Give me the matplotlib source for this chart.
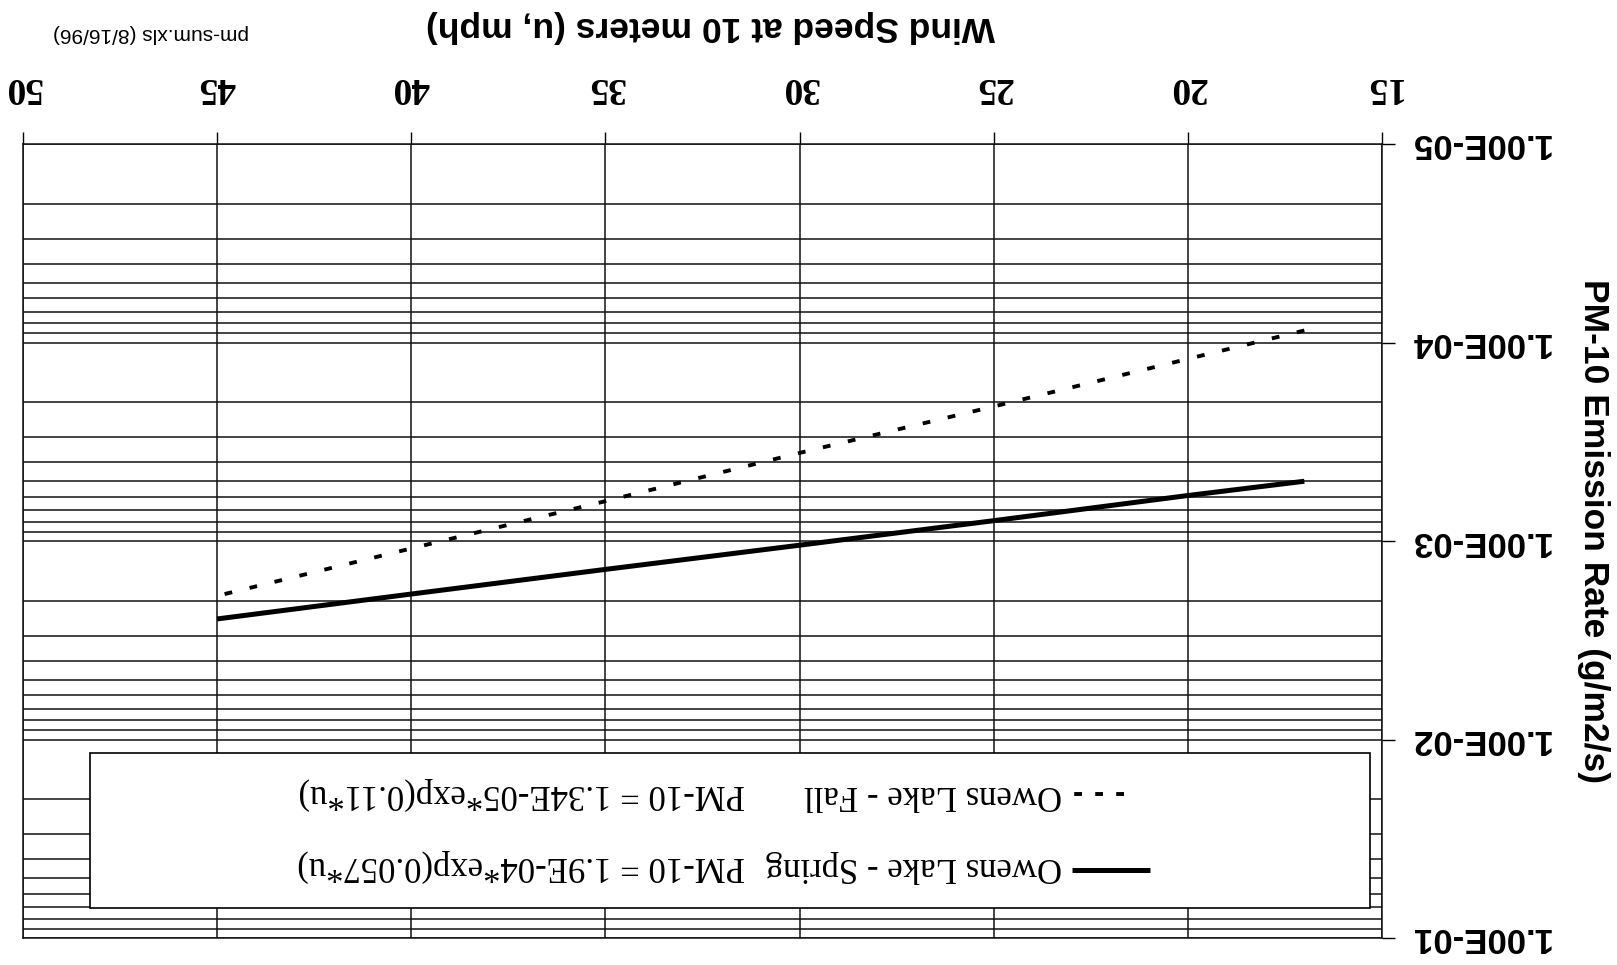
import matplotlib
matplotlib.use('Agg')
import matplotlib.pyplot as plt
from matplotlib.lines import Line2D
from matplotlib.patches import Rectangle
from matplotlib.ticker import NullFormatter, LogLocator

wind_speed = [17, 20, 25, 30, 35, 40, 45]
spring = [5.0e-4, 5.9e-4, 7.9e-4, 1.05e-3, 1.39e-3, 1.85e-3, 2.47e-3]
fall = [8.7e-5, 1.21e-4, 2.1e-4, 3.6e-4, 6.3e-4, 1.09e-3, 1.89e-3]

x_ticks = [15, 20, 25, 30, 35, 40, 45, 50]
y_ticks = [1e-5, 1e-4, 1e-3, 1e-2, 1e-1]
y_tick_labels = ['1.00E-05', '1.00E-04', '1.00E-03', '1.00E-02', '1.00E-01']

spring_label = 'Owens Lake - Spring'
spring_eq = 'PM-10 = 1.9E-04*exp(0.057*u)'
fall_label = 'Owens Lake - Fall'
fall_eq = 'PM-10 = 1.34E-05*exp(0.11*u)'

W, H = 1617, 965
serif = ['Liberation Serif', 'DejaVu Serif']
sans = ['Liberation Sans', 'DejaVu Sans']


def fx(px):
    return px / float(W)


def fy(py):
    return 1 - py / float(H)


fig = plt.figure(figsize=(W / 100.0, H / 100.0), dpi=100)
ax = fig.add_axes([fx(23), fy(938), fx(1382) - fx(23), fy(144) - fy(938)])

# the scan is rotated 180 degrees: both axes run backwards
ax.set_yscale('log')
ax.set_xlim(50, 15)
ax.set_ylim(1e-1, 1e-5)

ax.plot(wind_speed, spring, color='black', lw=3.6, solid_capstyle='butt', zorder=3)
ax.plot(wind_speed, fall, color='black', lw=2.8, linestyle=(0, (2.0, 4.6)), zorder=3)

ax.xaxis.tick_top()
ax.yaxis.tick_right()
ax.set_xticks(x_ticks)
ax.set_xticklabels([str(v) for v in x_ticks], rotation=180, family=serif,
                   fontweight='bold', fontsize=27)
ax.set_yticks(y_ticks)
ax.set_yticklabels(y_tick_labels, rotation=180, family=sans, fontweight='bold',
                   fontsize=25, va='center')
ax.yaxis.set_minor_locator(LogLocator(base=10, subs=range(2, 10)))
ax.yaxis.set_minor_formatter(NullFormatter())
ax.tick_params(axis='x', which='major', direction='out', length=9, width=1, pad=19)
ax.tick_params(axis='y', which='major', direction='out', length=9, width=1, pad=10)
ax.tick_params(axis='y', which='minor', length=0)

ax.grid(True, which='major', axis='both', color='#111111', lw=1.1)
ax.grid(True, which='minor', axis='y', color='#111111', lw=1.1)
for s in ax.spines.values():
    s.set_linewidth(1.1)
    s.set_color('#111111')

# axis titles and file note
fig.text(fx(710), fy(26), 'Wind Speed at 10 meters (u, mph)', rotation=180,
         ha='center', va='center', family=sans, fontweight='bold', fontsize=25.5)
fig.text(fx(1593), fy(531), 'PM-10 Emission Rate (g/m2/s)', rotation=270,
         ha='center', va='center', family=sans, fontweight='bold', fontsize=25.5)
fig.text(fx(151), fy(33), 'pm-sum.xls (8/16/96)', rotation=180,
         ha='center', va='center', family=sans, fontsize=15)

# legend box drawn by hand so that it can be upside down
fig.add_artist(Rectangle((fx(90), fy(908)), fx(1370) - fx(90), fy(753) - fy(908),
                         transform=fig.transFigure, facecolor='white',
                         edgecolor='black', lw=1.2, zorder=5))
fig.add_artist(Line2D([fx(1150), fx(1072)], [fy(870), fy(870)], color='black',
                      lw=3.6, solid_capstyle='butt', zorder=6))
fig.add_artist(Line2D([fx(1124), fx(1070)], [fy(794), fy(794)], color='black',
                      lw=2.8, linestyle=(0, (2.0, 3.4)), zorder=6))
for yy, lab, eq in [(794, fall_label, fall_eq), (866, spring_label, spring_eq)]:
    fig.text(fx(1062), fy(yy), lab, rotation=180, ha='right', va='center',
             family=serif, fontsize=25, zorder=6)
    fig.text(fx(745), fy(yy), eq, rotation=180, ha='right', va='center',
             family=serif, fontsize=25, zorder=6)

fig.savefig('out.png', dpi=100)
